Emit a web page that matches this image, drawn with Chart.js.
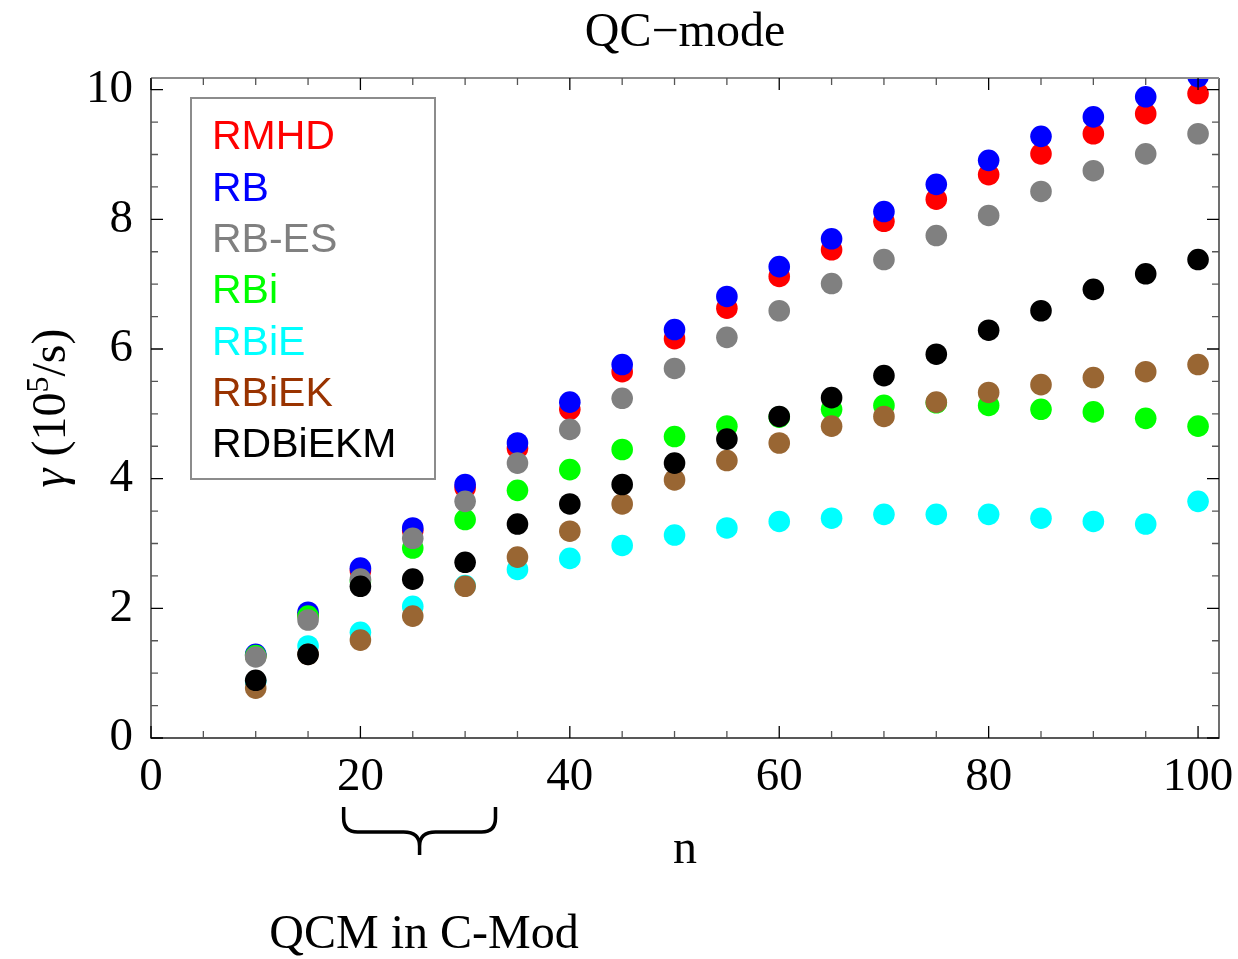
<!DOCTYPE html>
<html>
<head>
<meta charset="utf-8">
<script src="https://cdn.jsdelivr.net/npm/chart.js@4"></script>
<style>
  html, body { margin: 0; padding: 0; background: #fff; }
  #wrap { width: 1238px; height: 959px; }
</style>
</head>
<body>
<div id="wrap"><canvas id="myChart" width="1238" height="959"></canvas></div>
<script>
const nValues = [10, 15, 20, 25, 30, 35, 40, 45, 50, 55, 60, 65, 70, 75, 80, 85, 90, 95, 100];

const rmhd    = [1.27, 1.90, 2.58, 3.20, 3.86, 4.47, 5.07, 5.65, 6.16, 6.63, 7.12, 7.53, 7.97, 8.31, 8.69, 9.01, 9.32, 9.63, 9.94];
const rb      = [1.29, 1.94, 2.62, 3.24, 3.91, 4.55, 5.18, 5.76, 6.30, 6.81, 7.27, 7.70, 8.12, 8.54, 8.91, 9.28, 9.58, 9.89, 10.20];
const rbEs    = [1.25, 1.82, 2.45, 3.08, 3.65, 4.24, 4.76, 5.24, 5.70, 6.18, 6.59, 7.01, 7.38, 7.75, 8.06, 8.43, 8.75, 9.01, 9.32];
const rbi     = [1.27, 1.88, 2.42, 2.93, 3.37, 3.82, 4.14, 4.45, 4.65, 4.81, 4.95, 5.07, 5.13, 5.17, 5.13, 5.07, 5.03, 4.93, 4.81];
const rbie    = [0.87, 1.42, 1.63, 2.03, 2.35, 2.60, 2.77, 2.97, 3.13, 3.24, 3.34, 3.39, 3.45, 3.45, 3.45, 3.39, 3.34, 3.30, 3.65];
const rbiek   = [0.77, 1.29, 1.51, 1.88, 2.34, 2.79, 3.19, 3.61, 3.98, 4.28, 4.55, 4.81, 4.96, 5.18, 5.33, 5.45, 5.56, 5.65, 5.76];
const rdbiekm = [0.89, 1.29, 2.34, 2.45, 2.71, 3.30, 3.61, 3.91, 4.24, 4.61, 4.96, 5.25, 5.59, 5.92, 6.29, 6.59, 6.92, 7.16, 7.38];

const xTicks = [0, 20, 40, 60, 80, 100];
const yTicks = [0, 2, 4, 6, 8, 10];

// legend text colour differs slightly from point colour for RBiEK
const series = [
    { label: 'RMHD',    data: rmhd,    color: '#ff0000', text: '#ff0000', order: 7 },
    { label: 'RB',      data: rb,      color: '#0000ff', text: '#0000ff', order: 6 },
    { label: 'RB-ES',   data: rbEs,    color: '#808080', text: '#808080', order: 4 },
    { label: 'RBi',     data: rbi,     color: '#00ff00', text: '#00ff00', order: 5 },
    { label: 'RBiE',    data: rbie,    color: '#00ffff', text: '#00ffff', order: 3 },
    { label: 'RBiEK',   data: rbiek,   color: '#996633', text: '#993300', order: 2 },
    { label: 'RDBiEKM', data: rdbiekm, color: '#000000', text: '#000000', order: 1 },
];

const SERIF = '"Liberation Serif", "Times New Roman", serif';
const SANS = '"Liberation Sans", Arial, sans-serif';

const datasets = series.map(s => ({
    label: s.label,
    data: nValues.map((n, i) => ({ x: n, y: s.data[i] })),
    backgroundColor: s.color,
    borderColor: s.color,
    borderWidth: 0,
    pointRadius: 10.8,
    pointHoverRadius: 10.8,
    showLine: false,
    order: s.order,
}));

const extras = {
    id: 'extras',
    afterDraw(chart) {
        const ctx = chart.ctx;
        const a = chart.chartArea;
        const x = chart.scales.x;
        const y = chart.scales.y;
        ctx.save();

        // frame
        ctx.strokeStyle = '#222';
        ctx.lineWidth = 1.3;
        ctx.beginPath();
        ctx.moveTo(a.left, a.top);
        ctx.lineTo(a.left, a.bottom);
        ctx.lineTo(a.right, a.bottom);
        ctx.lineTo(a.right, a.top);
        ctx.stroke();
        ctx.strokeStyle = '#8c8c8c';
        ctx.lineWidth = 2;
        ctx.beginPath();
        ctx.moveTo(a.left, a.top);
        ctx.lineTo(a.right, a.top);
        ctx.stroke();

        // inward ticks on all four sides
        ctx.lineWidth = 1.3;
        for (let v = 0; v <= 100; v += 5) {
            const px = x.getPixelForValue(v);
            const len = v % 20 === 0 ? 12 : 7;
            ctx.strokeStyle = v % 20 === 0 ? '#000' : '#555';
            ctx.beginPath();
            ctx.moveTo(px, a.bottom); ctx.lineTo(px, a.bottom - len);
            ctx.moveTo(px, a.top); ctx.lineTo(px, a.top + len);
            ctx.stroke();
        }
        for (let v = 0; v <= 10; v += 0.5) {
            const py = y.getPixelForValue(v);
            const len = v % 2 === 0 ? 12 : 7;
            ctx.strokeStyle = v % 2 === 0 ? '#000' : '#555';
            ctx.beginPath();
            ctx.moveTo(a.left, py); ctx.lineTo(a.left + len, py);
            ctx.moveTo(a.right, py); ctx.lineTo(a.right - len, py);
            ctx.stroke();
        }

        // legend box
        ctx.strokeStyle = '#8c8c8c';
        ctx.lineWidth = 2;
        ctx.strokeRect(191, 98, 244, 381);
        ctx.font = '41px ' + SANS;
        ctx.textAlign = 'left';
        ctx.textBaseline = 'middle';
        series.forEach((s, i) => {
            ctx.fillStyle = s.text;
            ctx.fillText(s.label, 212, 138 + i * 51.3);
        });

        // title
        ctx.fillStyle = '#000';
        ctx.font = '48px ' + SERIF;
        ctx.textAlign = 'center';
        ctx.textBaseline = 'middle';
        ctx.fillText('QC\u2212mode', (a.left + a.right) / 2, 33);

        // x title
        ctx.fillText('n', (a.left + a.right) / 2, 850);

        // y title, rotated
        ctx.save();
        ctx.translate(50, 408);
        ctx.rotate(-Math.PI / 2);
        const parts = [
            { t: '\u03b3', f: 'italic 48px ' + SERIF, dy: 0 },
            { t: ' (10', f: '48px ' + SERIF, dy: 0 },
            { t: '5', f: '32px ' + SERIF, dy: -17 },
            { t: '/s)', f: '48px ' + SERIF, dy: 0 },
        ];
        let total = 0;
        parts.forEach(p => { ctx.font = p.f; p.w = ctx.measureText(p.t).width; total += p.w; });
        let cx = -total / 2;
        ctx.textAlign = 'left';
        ctx.textBaseline = 'alphabetic';
        parts.forEach(p => {
            ctx.font = p.f;
            ctx.fillText(p.t, cx, 15 + p.dy);
            cx += p.w;
        });
        ctx.restore();

        // curly brace marking the QCM range under the axis
        const x1 = x.getPixelForValue(18.4);
        const x2 = x.getPixelForValue(32.9);
        const xm = (x1 + x2) / 2;
        const top = 807, bar = 832, tip = 855;
        ctx.strokeStyle = '#000';
        ctx.lineWidth = 3.5;
        ctx.lineCap = 'butt';
        ctx.beginPath();
        ctx.moveTo(x1, top);
        ctx.lineTo(x1, bar - 14);
        ctx.quadraticCurveTo(x1, bar, x1 + 14, bar);
        ctx.lineTo(xm - 16, bar);
        ctx.quadraticCurveTo(xm, bar, xm, bar + 14);
        ctx.lineTo(xm, tip);
        ctx.moveTo(x2, top);
        ctx.lineTo(x2, bar - 14);
        ctx.quadraticCurveTo(x2, bar, x2 - 14, bar);
        ctx.lineTo(xm + 16, bar);
        ctx.quadraticCurveTo(xm, bar, xm, bar + 14);
        ctx.stroke();

        ctx.fillStyle = '#000';
        ctx.font = '48px ' + SERIF;
        ctx.textAlign = 'center';
        ctx.textBaseline = 'middle';
        ctx.fillText('QCM in C-Mod', 424, 935);

        ctx.restore();
    },
};

const config = {
    type: 'scatter',
    data: { datasets: datasets },
    options: {
        responsive: false,
        animation: false,
        layout: { padding: { top: 78, right: 19, left: 0, bottom: 0 } },
        plugins: {
            legend: { display: false },
            tooltip: { enabled: false },
        },
        scales: {
            x: {
                type: 'linear',
                min: 0,
                max: 102,
                grid: { display: false },
                border: { display: false },
                afterBuildTicks: scale => { scale.ticks = xTicks.map(v => ({ value: v })); },
                ticks: {
                    color: '#000',
                    padding: 3,
                    maxRotation: 0,
                    font: { family: SERIF, size: 47 },
                },
                afterFit: scale => {
                    scale.height = 221;
                    scale.paddingLeft = 0;
                    scale.paddingRight = 0;
                },
            },
            y: {
                type: 'linear',
                min: 0,
                max: 10.18,
                grid: { display: false },
                border: { display: false },
                afterBuildTicks: scale => { scale.ticks = yTicks.map(v => ({ value: v })); },
                ticks: {
                    color: '#000',
                    padding: 10,
                    font: { family: SERIF, size: 47 },
                },
                afterFit: scale => {
                    scale.width = 151;
                    scale.paddingTop = 0;
                    scale.paddingBottom = 0;
                },
            },
        },
    },
    plugins: [extras],
};

const myChart = new Chart(document.getElementById('myChart'), config);
</script>
</body>
</html>
